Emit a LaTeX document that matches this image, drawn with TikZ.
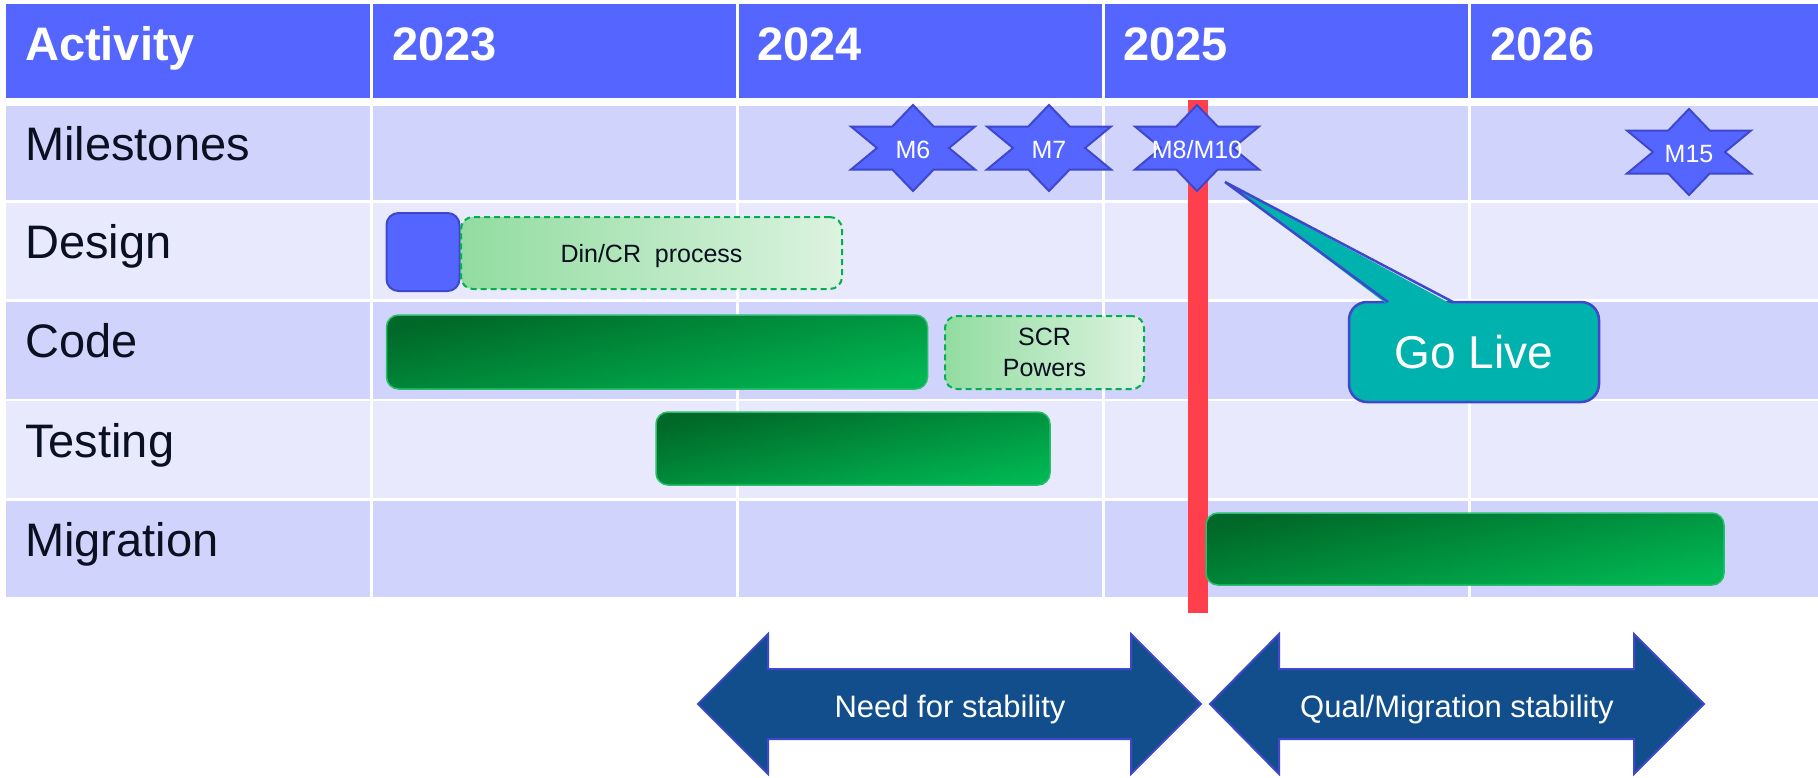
\documentclass[tikz,border=0pt]{standalone}
\usepackage{fontspec}
\setmainfont{Liberation Sans}
\usetikzlibrary{calc}

\definecolor{hdr}{RGB}{84,102,255}
\definecolor{rowA}{RGB}{208,211,252}
\definecolor{rowB}{RGB}{232,233,252}
\definecolor{starline}{RGB}{63,72,204}
\definecolor{redbar}{RGB}{255,64,76}
\definecolor{golivefill}{RGB}{0,178,174}
\definecolor{gdark}{RGB}{0,104,40}
\definecolor{gbright}{RGB}{0,182,82}
\definecolor{gline}{RGB}{40,190,110}
\definecolor{dashline}{RGB}{0,176,80}
\definecolor{lgL}{RGB}{146,220,160}
\definecolor{lgR}{RGB}{220,243,224}
\definecolor{arrowfill}{RGB}{18,78,140}
\definecolor{txt}{RGB}{10,16,32}

\tikzset{
  hdrtext/.style={anchor=base west, inner sep=0pt, text=white, font=\fontsize{47}{56}\selectfont\bfseries},
  rowlabel/.style={anchor=base west, inner sep=0pt, text=txt, font=\fontsize{47}{56}\selectfont},
  gbar/.style={rectangle, rounded corners=12pt, draw=gline, line width=1.5pt, top color=gdark, bottom color=gbright, shading angle=12, inner sep=0pt, outer sep=0pt},
  lbox/.style={rectangle, rounded corners=12pt, draw=dashline, line width=2pt, dash pattern=on 6pt off 4pt, left color=lgL, right color=lgR, inner sep=0pt, outer sep=0pt, text=txt, align=center, font=\fontsize{25}{31}\selectfont},
  bluebox/.style={rectangle, rounded corners=12pt, draw=starline, line width=2pt, fill=hdr, inner sep=0pt, outer sep=0pt},
  starshape/.style={fill=hdr, draw=starline, line width=2pt, line join=miter},
  startext/.style={inner sep=0pt, text=white, font=\fontsize{25}{30}\selectfont, text height=18pt, text depth=0pt},
  golivebox/.style={rectangle, rounded corners=18pt, draw=starline, line width=2.5pt, fill=golivefill, inner sep=0pt, outer sep=0pt, text=white, font=\fontsize{46}{54}\selectfont, text height=33pt, text depth=0pt},
  dblarrow/.style={fill=arrowfill, draw=starline, line width=2pt, line join=miter},
  arrowtext/.style={anchor=base, inner sep=0pt, text=white, font=\fontsize{31}{36}\selectfont}
}

\newcommand\hexstar[4]{%
  \begin{scope}[shift={(#2,#3)}]
    \draw[starshape] (0,-43) -- (20.7,-21.5) -- (62,-21.5) -- (36,0) -- (62,21.5) -- (20.7,21.5) -- (0,43) -- (-20.7,21.5) -- (-62,21.5) -- (-36,0) -- (-62,-21.5) -- (-20.7,-21.5) -- cycle;
    \node[startext] (#1) at (0,1) {#4};
  \end{scope}}

\begin{document}
\begin{tikzpicture}[x=1pt,y=-1pt]
\useasboundingbox (0,0) rectangle (1818,777);
\fill[white] (0,0) rectangle (1818,777);

% table cells
\foreach \xa/\xb in {6/369.5,372.5/735.5,738.5/1101.5,1104.5/1467.5,1470.5/1818}{
  \fill[hdr]  (\xa,4)   rectangle (\xb,98);
  \fill[rowA] (\xa,106) rectangle (\xb,200);
  \fill[rowB] (\xa,203) rectangle (\xb,299);
  \fill[rowA] (\xa,302) rectangle (\xb,399);
  \fill[rowB] (\xa,401) rectangle (\xb,498);
  \fill[rowA] (\xa,501) rectangle (\xb,597);
}

% header
\node[hdrtext] (hact) at (25,60) {Activity};
\node[hdrtext] (h23) at (392,60) {2023};
\node[hdrtext] (h24) at (757,60) {2024};
\node[hdrtext] (h25) at (1123,60) {2025};
\node[hdrtext] (h26) at (1490,60) {2026};

% row labels
\node[rowlabel] (lms)  at (25,160) {Milestones};
\node[rowlabel] (ldes) at (25,258) {Design};
\node[rowlabel] (lcod) at (25,357) {Code};
\node[rowlabel] (ltst) at (25,457) {Testing};
\node[rowlabel] (lmig) at (25,556) {Migration};

% red go-live line
\fill[redbar] (1188,100) rectangle (1208,613);

% design row
\node[bluebox, minimum width=73pt, minimum height=78pt] (desblue) at (423,252) {};
\node[lbox, minimum width=381pt, minimum height=72pt, text height=19pt, text depth=0pt] (dincr) at (651.5,253) {Din/CR\ \ process};

% code row
\node[gbar, minimum width=541pt, minimum height=74pt] (codebar) at (657,352) {};
\node[lbox, minimum width=199pt, minimum height=73pt] (scr) at (1044.5,352.5) {SCR\\Powers};

% testing row
\node[gbar, minimum width=394pt, minimum height=73pt] (testbar) at (853,448.5) {};

% migration row
\node[gbar, minimum width=518pt, minimum height=72pt] (migbar) at (1465,549) {};

% milestones
\hexstar{m6}{913}{148}{M6}
\hexstar{m7}{1049}{148}{M7}
\hexstar{m8}{1197}{148}{M8/M10}
\hexstar{m15}{1689}{152}{M15}

% Go Live callout
\node[golivebox, minimum width=250pt, minimum height=100pt] (golive) at (1474,352) {Go Live};
\coordinate (tip) at (1225,182);
\fill[golivefill] ($(golive.north west)+(39,3)$) -- (tip) -- ($(golive.north west)+(104,3)$) -- cycle;
\draw[starline, line width=2.5pt, line join=miter] ($(golive.north west)+(39,0)$) -- (tip) -- ($(golive.north west)+(104,0)$);

% bottom double arrows
\draw[dblarrow] (698,704) -- (768,634) -- (768,669) -- (1131,669) -- (1131,634) -- (1201,704) -- (1131,774) -- (1131,739) -- (768,739) -- (768,774) -- cycle;
\node[arrowtext] (need) at (950,717) {Need for stability};
\draw[dblarrow] (1210,704) -- (1279,634) -- (1279,669) -- (1634,669) -- (1634,634) -- (1704,704) -- (1634,774) -- (1634,739) -- (1279,739) -- (1279,774) -- cycle;
\node[arrowtext] (qual) at (1457,717) {Qual/Migration stability};
\end{tikzpicture}
\end{document}
